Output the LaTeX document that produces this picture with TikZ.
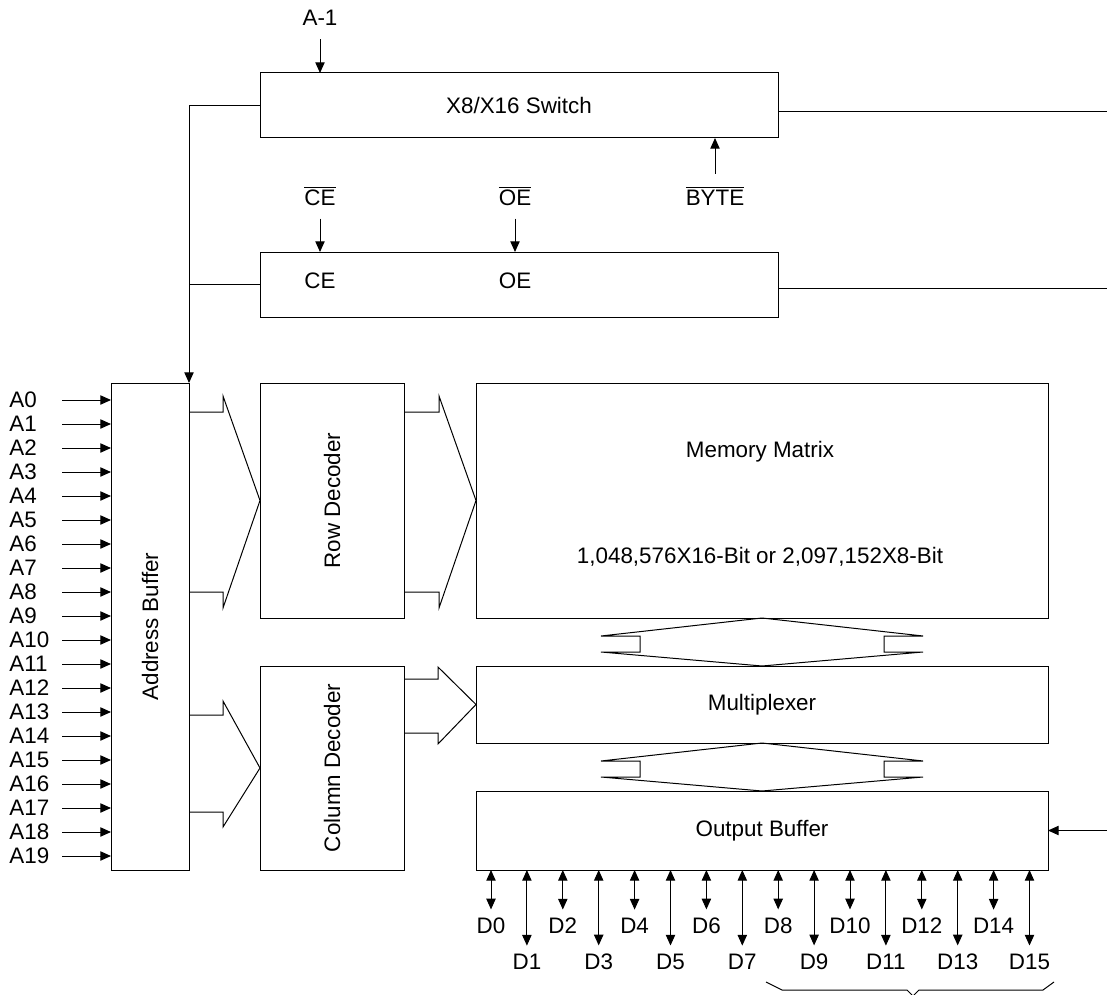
\documentclass[tikz,border=0pt]{standalone}
\usepackage{fontspec}
\setmainfont{Liberation Sans}
\usetikzlibrary{arrows.meta}

\begin{document}
\begin{tikzpicture}[
  x=0.75pt, y=-0.75pt,
  font=\fontsize{16.8}{20}\selectfont,
  line width=0.75pt,
  box/.style={
    draw,
    inner sep=0pt,
    outer sep=0pt,
    align=center
  },
  sig/.style={-{Triangle[length=8pt,width=7pt]}},
  bidir/.style={{Triangle[length=8pt,width=7pt]}-{Triangle[length=8pt,width=7pt]}},
  lab/.style={inner sep=0pt, outer sep=10pt, anchor=base},
  alab/.style={inner sep=0pt, anchor=west},
  dlab/.style={inner sep=0pt, outer sep=6.5pt}
]
\useasboundingbox (0,0) rectangle (1107,995);

% blocks
\node[box, minimum width=388.5pt, minimum height=48.75pt] (sw) at (519,105.5) {X8/X16 Switch};
\node[box, minimum width=388.5pt, minimum height=48.75pt] (ctl) at (519,284.5) {};
\node[box, minimum width=58.5pt, minimum height=365.25pt] (abuf) at (150,626.5) {};
\node[box, minimum width=108pt, minimum height=176.25pt] (rowdec) at (332,500.5) {};
\node[box, minimum width=108pt, minimum height=153pt] (coldec) at (332,768) {};
\node[box, minimum width=429pt, minimum height=176.25pt] (mem) at (762,500.5) {};
\node[box, minimum width=429pt, minimum height=57.75pt] (mux) at (762,704.5) {Multiplexer};
\node[box, minimum width=429pt, minimum height=59.25pt] (obuf) at (762,830.5) {Output Buffer};

\node[rotate=90] (abuftxt) at (abuf) {Address Buffer};
\node[rotate=90] (rowtxt) at (rowdec) {Row Decoder};
\node[rotate=90] (coltxt) at (coldec) {Column Decoder};
\node (memtitle) at (760,452) {Memory Matrix};
\node (memsize) at (760,557) {1,048,576X16-Bit or 2,097,152X8-Bit};
\node (ce) at (320,281) {CE};
\node (oe) at (515,281) {OE};

% control inputs
\node[lab] (am1) at (320,26) {A-1};
\node[lab] (cebar) at (320,205) {$\overline{\hbox{CE}}$};
\node[lab] (oebar) at (515,205) {$\overline{\hbox{OE}}$};
\node[lab] (bytebar) at (715,205) {$\overline{\hbox{BYTE}}$};

\draw[sig] (am1) -- (am1 |- sw.north);
\draw[sig] (cebar) -- (cebar |- ctl.north);
\draw[sig] (oebar) -- (oebar |- ctl.north);
\draw[sig] (bytebar) -- (bytebar |- sw.south);

% lines to the right edge
\coordinate (swout) at (1107,112);
\coordinate (ctlout) at (1107,288);
\coordinate (obin) at (1107,830.5);
\draw (swout -| sw.east) -- (swout);
\draw (ctlout -| ctl.east) -- (ctlout);
\draw[sig] (obin) -- (obuf.east);

% feed into address buffer
\draw[sig] (sw.west) -| (abuf.north east);
\draw (ctl.west) -- (ctl.west -| abuf.east);

% address inputs
\foreach \i in {0,...,19} {
  \node[alab] (a\i) at (9,400+24*\i) {A\i};
  \draw[sig] (a\i.west) ++(53,0) -- (a\i.west -| abuf.west);
}

% bus arrows
\draw (abuf.east |- 0,412) -| (223,396) -- (rowdec.west) -- (223,608) |- (abuf.east |- 0,592);
\draw (rowdec.east |- 0,412) -| (439,396) -- (mem.west) -- (439,608) |- (rowdec.east |- 0,592);
\draw (abuf.east |- 0,715) -| (223,701) -- (coldec.west) -- (223,827) |- (abuf.east |- 0,812);
\draw (coldec.east |- 0,679) -| (438,667) -- (mux.west) -- (438,744) |- (coldec.east |- 0,733);

\draw (mem.south) -- (923,636) -- (884,636) -- (884,652) -- (923,652) -- (mux.north)
  -- (601,652) -- (640,652) -- (640,636) -- (601,636) -- cycle;
\draw (mux.south) -- (923,761) -- (884,761) -- (884,777) -- (923,777) -- (obuf.north)
  -- (601,777) -- (640,777) -- (640,761) -- (601,761) -- cycle;

% data lines
\foreach \i in {0,...,15} {
  \pgfmathsetmacro\dx{491+35.9*\i}
  \pgfmathsetmacro\dy{isodd(\i) ? 962 : 926}
  \node[dlab] (d\i) at (\dx,\dy) {D\i};
  \draw[bidir] (d\i |- obuf.south) -- (d\i.north);
}

% brace under D8-D15
\draw (766,982) -- (782,990) -- (907,990) -- (913,996) -- (919,990) -- (1043,990) -- (1054,982);
\end{tikzpicture}
\end{document}
